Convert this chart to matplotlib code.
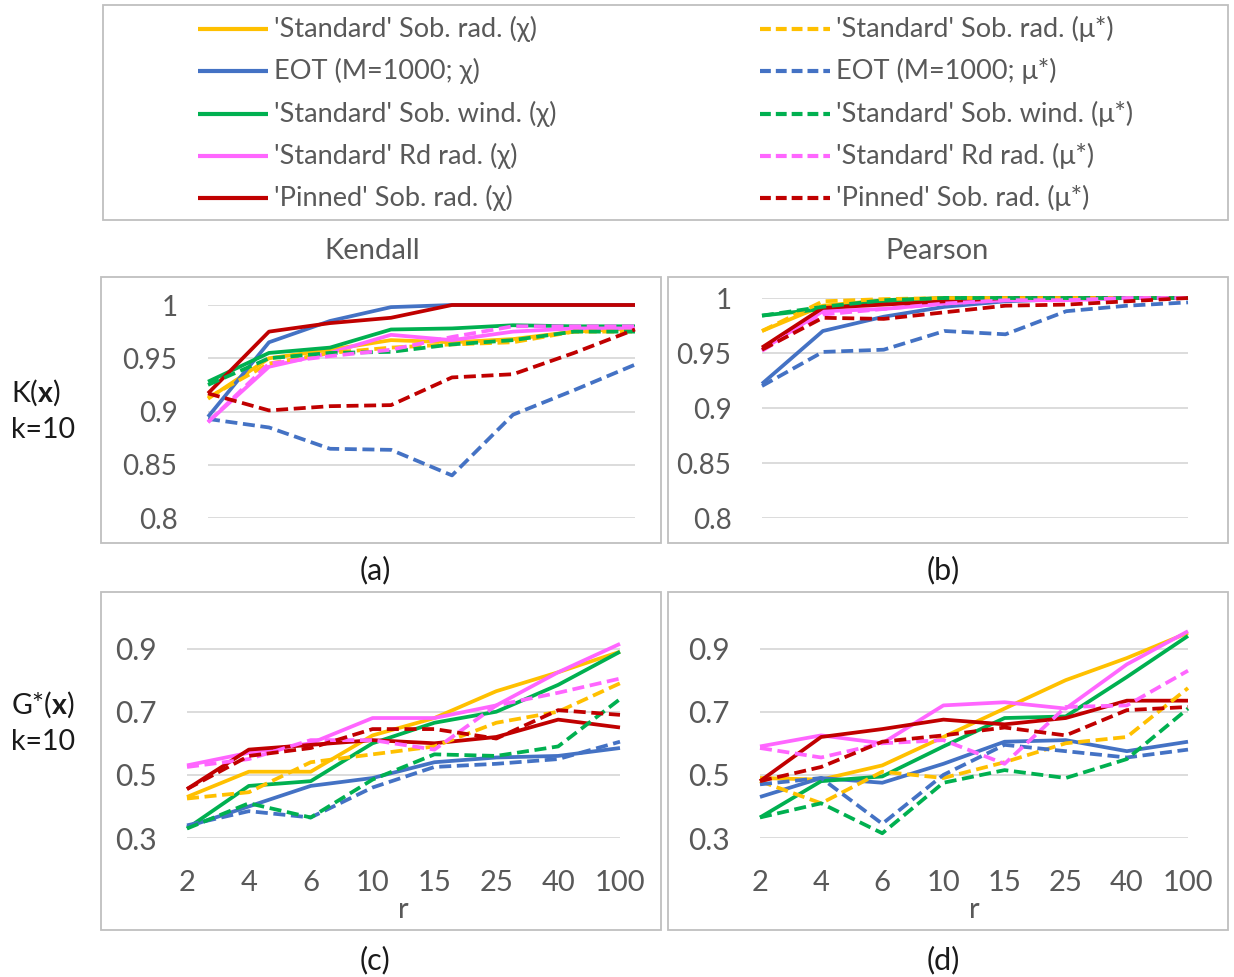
import numpy as np
import matplotlib
matplotlib.use('Agg')
from matplotlib import pyplot as plt
from matplotlib.lines import Line2D
from matplotlib.patches import Rectangle

plt.rcParams['font.family'] = ['Lato', 'DejaVu Sans']
plt.rcParams['mathtext.fontset'] = 'custom'
plt.rcParams['mathtext.rm'] = 'Lato'
plt.rcParams['mathtext.bf'] = 'Lato:bold'

# categories
r_labels = ['2', '4', '6', '10', '15', '25', '40', '100']

names_chi = ["'Standard' Sob. rad. (\u03c7)", "EOT (M=1000; \u03c7)", "'Standard' Sob. wind. (\u03c7)",
             "'Standard' Rd rad. (\u03c7)", "'Pinned' Sob. rad. (\u03c7)"]
names_mu = ["'Standard' Sob. rad. (\u03bc*)", "EOT (M=1000; \u03bc*)", "'Standard' Sob. wind. (\u03bc*)",
            "'Standard' Rd rad. (\u03bc*)", "'Pinned' Sob. rad. (\u03bc*)"]
colors = ['#FFC000', '#4472C4', '#00B050', '#FF66FF', '#C00000']

# (a) Kendall, K(x)
kendall_K_chi = [
    [0.912, 0.950, 0.958, 0.967, 0.965, 0.968, 0.975, 0.978],
    [0.895, 0.965, 0.985, 0.998, 1.000, 1.000, 1.000, 1.000],
    [0.928, 0.955, 0.960, 0.977, 0.978, 0.981, 0.980, 0.980],
    [0.890, 0.942, 0.955, 0.972, 0.967, 0.975, 0.978, 0.978],
    [0.917, 0.975, 0.983, 0.988, 1.000, 1.000, 1.000, 1.000],
]
kendall_K_mu = [
    [0.913, 0.945, 0.955, 0.960, 0.963, 0.965, 0.975, 0.975],
    [0.893, 0.885, 0.865, 0.864, 0.840, 0.897, 0.920, 0.944],
    [0.925, 0.950, 0.955, 0.956, 0.963, 0.967, 0.975, 0.975],
    [0.890, 0.945, 0.952, 0.958, 0.970, 0.980, 0.980, 0.980],
    [0.917, 0.901, 0.905, 0.906, 0.932, 0.935, 0.955, 0.977],
]
# (b) Pearson, K(x)
pearson_K_chi = [
    [0.970, 0.993, 0.998, 1.000, 1.000, 1.000, 1.000, 1.000],
    [0.922, 0.970, 0.983, 0.992, 0.997, 0.999, 1.000, 1.000],
    [0.984, 0.990, 0.997, 1.000, 1.000, 1.000, 1.000, 1.000],
    [0.953, 0.988, 0.990, 0.995, 0.998, 0.998, 1.000, 1.000],
    [0.955, 0.991, 0.994, 0.997, 1.000, 1.000, 1.000, 1.000],
]
pearson_K_mu = [
    [0.970, 0.997, 0.999, 1.000, 1.000, 1.000, 1.000, 1.000],
    [0.920, 0.951, 0.953, 0.970, 0.967, 0.988, 0.993, 0.996],
    [0.984, 0.992, 0.998, 1.000, 1.000, 1.000, 1.000, 1.000],
    [0.952, 0.985, 0.990, 0.995, 0.998, 0.998, 1.000, 1.000],
    [0.953, 0.982, 0.981, 0.987, 0.993, 0.994, 0.997, 1.000],
]
# (c) Kendall, G*(x)
kendall_G_chi = [
    [0.430, 0.510, 0.510, 0.625, 0.680, 0.765, 0.825, 0.890],
    [0.335, 0.400, 0.465, 0.490, 0.540, 0.555, 0.560, 0.585],
    [0.330, 0.465, 0.480, 0.600, 0.665, 0.700, 0.785, 0.890],
    [0.530, 0.570, 0.600, 0.680, 0.680, 0.720, 0.825, 0.915],
    [0.455, 0.580, 0.595, 0.610, 0.600, 0.620, 0.675, 0.650],
]
kendall_G_mu = [
    [0.425, 0.445, 0.540, 0.565, 0.590, 0.665, 0.700, 0.790],
    [0.340, 0.385, 0.365, 0.460, 0.525, 0.535, 0.550, 0.605],
    [0.330, 0.410, 0.365, 0.485, 0.565, 0.560, 0.590, 0.740],
    [0.525, 0.550, 0.610, 0.610, 0.580, 0.720, 0.760, 0.805],
    [0.455, 0.560, 0.585, 0.645, 0.645, 0.615, 0.705, 0.690],
]
# (d) Pearson, G*(x)
pearson_G_chi = [
    [0.490, 0.485, 0.530, 0.620, 0.710, 0.800, 0.870, 0.950],
    [0.430, 0.490, 0.475, 0.535, 0.605, 0.610, 0.575, 0.605],
    [0.365, 0.480, 0.495, 0.590, 0.680, 0.685, 0.810, 0.940],
    [0.590, 0.625, 0.600, 0.720, 0.730, 0.710, 0.850, 0.955],
    [0.480, 0.620, 0.645, 0.675, 0.660, 0.680, 0.735, 0.735],
]
pearson_G_mu = [
    [0.480, 0.410, 0.510, 0.490, 0.540, 0.600, 0.620, 0.775],
    [0.470, 0.490, 0.345, 0.500, 0.595, 0.575, 0.555, 0.580],
    [0.365, 0.410, 0.315, 0.475, 0.515, 0.490, 0.550, 0.710],
    [0.585, 0.555, 0.600, 0.610, 0.535, 0.715, 0.720, 0.830],
    [0.480, 0.525, 0.605, 0.625, 0.650, 0.625, 0.705, 0.715],
]

W, H = 1234, 977
fig = plt.figure(figsize=(W / 100, H / 100), dpi=100)

GRAY = '#595959'
DARK = '#1a1a1a'
BORDER = '#BFBFBF'
LW = 2.7
DASH = (3.2, 1.5)


def px_rect(x0, y0, x1, y1):
    return [x0 / W, 1 - y1 / H, (x1 - x0) / W, (y1 - y0) / H]


def box(x0, y0, x1, y1):
    fig.patches.append(Rectangle((x0 / W, 1 - y1 / H), (x1 - x0) / W, (y1 - y0) / H,
                                 transform=fig.transFigure, fill=False,
                                 edgecolor=BORDER, linewidth=1.3))


def panel(rect, chi, mu, ylim, yticks, ylabels, show_x, ysize):
    ax = fig.add_axes(px_rect(*rect))
    x = np.arange(len(r_labels))
    for i in range(5):
        ax.plot(x, chi[i], color=colors[i], lw=LW, solid_capstyle='butt', clip_on=False, zorder=3)
    for i in range(5):
        ax.plot(x, mu[i], color=colors[i], lw=LW, dashes=DASH, clip_on=False, zorder=3)
    ax.set_xlim(0, 7)
    ax.set_ylim(*ylim)
    ax.set_yticks(yticks)
    ax.set_yticklabels(ylabels)
    ax.grid(axis='y', color='#D9D9D9', lw=1.3)
    ax.set_axisbelow(True)
    for s in ax.spines.values():
        s.set_visible(False)
    ax.tick_params(length=0, labelcolor=GRAY)
    ax.tick_params(axis='y', labelsize=ysize, pad=22)
    ax.set_xticks(x)
    if show_x:
        ax.set_xticklabels(r_labels)
        ax.tick_params(axis='x', labelsize=21, pad=23)
        ax.set_xlabel('r', fontsize=21, color=GRAY, labelpad=1)
    else:
        ax.set_xticklabels([])
    return ax


k_ticks = [0.8, 0.85, 0.9, 0.95, 1.0]
k_labels = ['0.8', '0.85', '0.9', '0.95', '1']
g_ticks = [0.3, 0.5, 0.7, 0.9]
g_labels = ['0.3', '0.5', '0.7', '0.9']

panel((208, 305, 635, 518), kendall_K_chi, kendall_K_mu, (0.8, 1.0), k_ticks, k_labels, False, 20)
panel((762, 298, 1188, 518), pearson_K_chi, pearson_K_mu, (0.8, 1.0), k_ticks, k_labels, False, 20)
panel((187, 617, 620, 838), kendall_G_chi, kendall_G_mu, (0.3, 1.0), g_ticks, g_labels, True, 21.5)
panel((760, 617, 1188, 838), pearson_G_chi, pearson_G_mu, (0.3, 1.0), g_ticks, g_labels, True, 21.5)

box(101, 277, 661, 543)
box(668, 277, 1228, 543)
box(101, 592, 661, 930)
box(668, 592, 1228, 930)
box(103, 5, 1228, 220)

# legend (drawn by hand in two columns)
rows_y = [29, 71, 114, 156, 198]
for i in range(5):
    yy = 1 - rows_y[i] / H
    fig.add_artist(Line2D([198 / W, 268 / W], [yy, yy], transform=fig.transFigure,
                          color=colors[i], lw=LW + 0.3, solid_capstyle='butt'))
    fig.text(274 / W, yy, names_chi[i], fontsize=19.5, color=GRAY, va='center', ha='left')
    fig.add_artist(Line2D([760 / W, 830 / W], [yy, yy], transform=fig.transFigure,
                          color=colors[i], lw=LW + 0.3, dashes=(2.6, 1.2)))
    fig.text(836 / W, yy, names_mu[i], fontsize=19.5, color=GRAY, va='center', ha='left')

# titles and labels
fig.text(372 / W, 1 - 251 / H, 'Kendall', fontsize=21, color=GRAY, ha='center', va='center')
fig.text(937 / W, 1 - 251 / H, 'Pearson', fontsize=21, color=GRAY, ha='center', va='center')
fig.text(11 / W, 1 - 393 / H, 'K($\\mathbf{x}$)', fontsize=20.5, color=DARK, ha='left', va='center')
fig.text(11 / W, 1 - 430 / H, 'k=10', fontsize=20.5, color=DARK, ha='left', va='center')
fig.text(11 / W, 1 - 705 / H, 'G*($\\mathbf{x}$)', fontsize=20.5, color=DARK, ha='left', va='center')
fig.text(11 / W, 1 - 742 / H, 'k=10', fontsize=20.5, color=DARK, ha='left', va='center')
for lab, xx, yy in [('(a)', 375, 570), ('(b)', 943, 570), ('(c)', 375, 960), ('(d)', 943, 960)]:
    fig.text(xx / W, 1 - yy / H, lab, fontsize=22, color=DARK, ha='center', va='center')

fig.savefig('out.png', dpi=100)
